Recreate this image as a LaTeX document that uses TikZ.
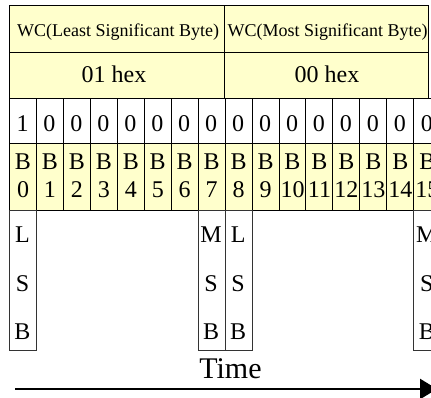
\documentclass[tikz,border=0pt]{standalone}
\usepackage{fontspec}
\setmainfont{Liberation Serif}
\usetikzlibrary{arrows.meta}
\definecolor{yel}{HTML}{FFFFCC}
\begin{document}
\begin{tikzpicture}[x=1pt,y=-1pt,
  cell/.style={draw=black, line width=0.8pt, inner sep=0pt, anchor=north west},
  lsbbox/.style={draw=black!80, line width=0.8pt, inner sep=0pt, anchor=north west, fill=white, minimum width=26.95pt, minimum height=140pt},
  hdrtxt/.style={font=\fontsize{18}{21}\selectfont, anchor=base, inner sep=0pt},
  bigtxt/.style={font=\fontsize{24}{28}\selectfont, anchor=base, inner sep=0pt},
  timetxt/.style={font=\fontsize{30}{36}\selectfont, anchor=base, inner sep=0pt}]
\useasboundingbox (0,0) rectangle (431,398);
% header rows
\node[cell, fill=yel, minimum width=215pt, minimum height=47pt] (hl) at (9,5) {};
\node[cell, fill=yel, minimum width=204pt, minimum height=47pt] (hm) at (224,5) {};
\node[cell, fill=yel, minimum width=215pt, minimum height=46pt] (xl) at (9,52) {};
\node[cell, fill=yel, minimum width=204pt, minimum height=46pt] (xm) at (224,52) {};
\node[hdrtxt] (hlt) at (118,37) {WC(Least Significant Byte)};
\node[hdrtxt] (hmt) at (327.5,37) {WC(Most Significant Byte)};
\node[bigtxt] (xlt) at (114,83) {01 hex};
\node[bigtxt] (xmt) at (327,83) {00 hex};
% bit rows
\foreach \i/\v in {0/1,1/0,2/0,3/0,4/0,5/0,6/0,7/0,8/0,9/0,10/0,11/0,12/0,13/0,14/0,15/0}{
  \node[cell, fill=white, minimum width=26.95pt, minimum height=45pt] (d\i) at ({9+26.95*\i},98) {};
  \node[cell, fill=yel, minimum width=26.95pt, minimum height=67pt] (b\i) at ({9+26.95*\i},143) {};
  \node[bigtxt] (dt\i) at ({22.5+26.95*\i},132) {\v};
  \node[bigtxt] (bt\i) at ({23+26.95*\i},170) {B};
  \node[bigtxt] (bn\i) at ({23+26.95*\i},198) {\i};
}
% LSB / MSB boxes
\foreach \c/\f in {0/L,7/M,8/L,15/M}{
  \node[lsbbox] (m\c) at ({9+26.95*\c},210) {};
  \node[bigtxt] (m\c a) at ({22.5+26.95*\c},243) {\f};
  \node[bigtxt] (m\c b) at ({22.5+26.95*\c},291) {S};
  \node[bigtxt] (m\c c) at ({22.5+26.95*\c},339) {B};
}
% time arrow
\node[timetxt] (time) at (230.5,378) {Time};
\coordinate (as) at (15,389);
\coordinate (ae) at (437,389);
\draw[line width=2.6pt, -{Triangle[length=17pt,width=20pt]}] (as) -- (ae);
\end{tikzpicture}
\end{document}
